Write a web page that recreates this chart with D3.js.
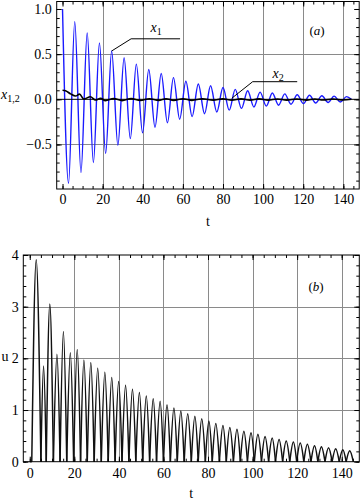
<!DOCTYPE html>
<html><head><meta charset="utf-8">
<script src="https://cdn.jsdelivr.net/npm/d3@7"></script>
<style>
body{margin:0;background:#fff}
svg{display:block}
text{font-family:"Liberation Serif","Times New Roman",serif;fill:#000}
</style>
</head><body>
<svg id="c" width="360" height="504"></svg>
<script>
// ---------- data ----------
const tTicks = [0, 20, 40, 60, 80, 100, 120, 140];
const aYTicks = [-0.5, 0.0, 0.5, 1.0];
const bYTicks = [0, 1, 2, 3, 4];

// panel (a): x1 extrema (blue)
const x1PeakT = [0, 6.1, 12.3, 18.4, 24.5, 30.7, 36.8, 43.0, 49.2, 55.3, 61.5, 67.7, 73.8, 80.0, 86.1, 92.3, 98.5, 104.6, 110.8, 117.0, 123.1, 129.3, 135.4, 141.6];
const x1PeakV = [1.0, 0.86, 0.735, 0.625, 0.535, 0.46, 0.39, 0.33, 0.285, 0.24, 0.20, 0.17, 0.15, 0.13, 0.11, 0.095, 0.08, 0.07, 0.06, 0.05, 0.045, 0.04, 0.035, 0.03];
const x1TroughT = [3.0, 9.2, 15.4, 21.5, 27.6, 33.8, 39.9, 46.1, 52.3, 58.4, 64.6, 70.8, 76.9, 83.1, 89.2, 95.4, 101.6, 107.7, 113.9, 120.1, 126.2, 132.4, 138.5, 144.0];
const x1TroughV = [-0.93, -0.81, -0.70, -0.60, -0.51, -0.435, -0.37, -0.31, -0.26, -0.22, -0.19, -0.16, -0.14, -0.12, -0.10, -0.085, -0.075, -0.065, -0.055, -0.048, -0.04, -0.035, -0.03, 0.0];

// panel (a): x2 (black)
const x2T = [0, 1.5, 4.0, 6.5, 8.5, 10.6, 13.9, 16.4, 19.0, 21.4, 25.5, 29.7, 34.2, 38.8, 43.3, 47.9, 51.6, 55.4, 60.0, 64.5, 69.8, 75.1, 79.8, 84.4, 89.0, 93.5, 98.0, 102.5, 107.2, 111.8, 116.8, 121.7, 125.8, 129.9, 134.8, 139.8, 144.0];
const x2V = [0.100, 0.095, 0.060, 0.036, 0.058, 0.003, 0.029, -0.008, 0.010, -0.014, 0.008, -0.014, 0.008, -0.013, 0.007, -0.013, 0.007, -0.012, 0.006, -0.012, 0.006, -0.011, 0.005, -0.011, 0.005, -0.010, 0.005, -0.010, 0.004, -0.009, 0.004, -0.009, 0.004, -0.008, 0.003, -0.008, 0.000];

// panel (b): u lobes
const uPeakT = [2.9, 6.2, 9.0, 12.2, 15.1, 18.2, 21.3, 24.3, 27.4, 30.5, 33.7, 36.8, 39.9, 43.0, 46.1, 49.2, 52.3, 55.4, 58.5, 61.6, 64.7, 67.8, 70.9, 74.1, 77.2, 80.4, 83.5, 86.7, 89.8, 93.0, 96.1, 99.3, 102.4, 105.6, 108.8, 111.9, 115.1, 118.3, 121.4, 124.6, 127.8, 130.9, 134.1, 137.3, 140.5, 143.6];
const uPeakV = [3.91, 1.85, 3.05, 2.08, 2.52, 2.11, 2.17, 1.97, 1.92, 1.81, 1.73, 1.63, 1.55, 1.48, 1.40, 1.34, 1.27, 1.22, 1.17, 1.10, 1.04, 0.98, 0.93, 0.88, 0.83, 0.79, 0.74, 0.70, 0.66, 0.63, 0.59, 0.56, 0.53, 0.49, 0.46, 0.43, 0.40, 0.38, 0.36, 0.34, 0.31, 0.29, 0.27, 0.25, 0.23, 0.21];
const uZeroT = [0.9, 5.0, 7.4, 10.6, 13.6, 16.6, 19.7, 22.8, 25.8, 28.9, 32.1, 35.2, 38.3, 41.4, 44.5, 47.6, 50.7, 53.8, 56.9, 60.0, 63.1, 66.2, 69.3, 72.5, 75.6, 78.8, 81.9, 85.1, 88.2, 91.4, 94.5, 97.7, 100.8, 104.0, 107.2, 110.3, 113.5, 116.7, 119.8, 123.0, 126.2, 129.3, 132.5, 135.7, 138.9, 142.0, 145.2];

// ---------- drawing ----------
const FONT = "Liberation Serif, Times New Roman, serif";
const svg = d3.select("#c");

const xA = d3.scaleLinear().domain([-2.9, 147.9]).range([56.7, 359.2]);
const yA = d3.scaleLinear().domain([-0.993, 1.083]).range([189, 1.5]);
const xB = d3.scaleLinear().domain([-2.9, 147.9]).range([23.3, 359.3]);
const yB = d3.scaleLinear().domain([0, 4]).range([461.7, 255]);

function frame(x, y, o) {
  const g = svg.append("g");
  const [x0, x1] = x.range(), [y0, y1] = y.range();
  g.selectAll(".gx").data(o.gridX).join("line")
    .attr("x1", d => Math.round(x(d)) + 0.5).attr("x2", d => Math.round(x(d)) + 0.5)
    .attr("y1", y0).attr("y2", y1).attr("stroke", "#8a8a8a").attr("stroke-width", 1);
  g.selectAll(".gy").data(o.gridY).join("line")
    .attr("y1", d => Math.round(y(d)) + 0.5).attr("y2", d => Math.round(y(d)) + 0.5)
    .attr("x1", x0).attr("x2", x1).attr("stroke", "#8a8a8a").attr("stroke-width", 1);
  return g;
}

function axes(x, y, o) {
  const g = svg.append("g");
  const [x0, x1] = x.range(), [y0, y1] = y.range();
  const style = s => s.attr("font-family", FONT).attr("font-size", 14)
    .call(s => s.select(".domain").remove());
  g.append("g").attr("transform", `translate(0,${y0})`)
    .call(d3.axisBottom(x).tickValues(o.xMajor).tickSize(-5).tickPadding(o.xPad).tickFormat(d3.format("d"))).call(style);
  g.append("g").attr("transform", `translate(0,${y0})`)
    .call(d3.axisBottom(x).tickValues(o.xMinor).tickSize(-3).tickFormat("")).call(style);
  g.append("g").attr("transform", `translate(0,${y1})`)
    .call(d3.axisTop(x).tickValues(o.xMajor).tickSize(-5).tickFormat("")).call(style);
  g.append("g").attr("transform", `translate(0,${y1})`)
    .call(d3.axisTop(x).tickValues(o.xMinor).tickSize(-3).tickFormat("")).call(style);
  g.append("g").attr("transform", `translate(${x0},0)`)
    .call(d3.axisLeft(y).tickValues(o.yMajor).tickSize(-5).tickPadding(o.yPad).tickFormat(o.yFmt)).call(style);
  g.append("g").attr("transform", `translate(${x0},0)`)
    .call(d3.axisLeft(y).tickValues(o.yMinor).tickSize(-3).tickFormat("")).call(style);
  g.append("g").attr("transform", `translate(${x1},0)`)
    .call(d3.axisRight(y).tickValues(o.yMajor).tickSize(-5).tickFormat("")).call(style);
  g.append("g").attr("transform", `translate(${x1},0)`)
    .call(d3.axisRight(y).tickValues(o.yMinor).tickSize(-3).tickFormat("")).call(style);
  g.append("rect").attr("x", x0).attr("y", y1).attr("width", x1 - x0).attr("height", y0 - y1)
    .attr("fill", "none").attr("stroke", "#000").attr("stroke-width", 1);
}

// ----- panel (a) -----
frame(xA, yA, { gridX: tTicks.filter(d => d > 0), gridY: [-0.5, 0.5] });

const x1Pts = x1PeakT.map((t, i) => [t, x1PeakV[i]])
  .concat(x1TroughT.map((t, i) => [t, x1TroughV[i]]))
  .sort((a, b) => a[0] - b[0]);
const lineA = d3.line().x(d => xA(d[0])).y(d => yA(d[1])).curve(d3.curveMonotoneX);
svg.append("path").attr("d", lineA(x1Pts)).attr("fill", "none")
  .attr("stroke", "#1a1aff").attr("stroke-width", 1.4);

svg.append("line").attr("x1", xA.range()[0]).attr("x2", xA.range()[1])
  .attr("y1", yA(0)).attr("y2", yA(0)).attr("stroke", "#000").attr("stroke-width", 1);

const x2Pts = x2T.map((t, i) => [t, x2V[i]]);
svg.append("path").attr("d", lineA(x2Pts)).attr("fill", "none")
  .attr("stroke", "#000").attr("stroke-width", 1.6);

axes(xA, yA, {
  xMajor: tTicks, xMinor: d3.range(0, 146, 5), xPad: 5, yPad: 5,
  yMajor: aYTicks, yMinor: d3.range(-9, 11).map(d => d / 10),
  yFmt: d3.format(".1f")
});

const leadA = [[24.5, 0.535], [34.2, 0.67], [58.6, 0.67]];
const leadB = [[84.4, 0.012], [94.8, 0.195], [117.0, 0.195]];
const plain = d3.line().x(d => xA(d[0])).y(d => yA(d[1]));
svg.append("path").attr("d", plain(leadA)).attr("fill", "none").attr("stroke", "#000").attr("stroke-width", 1);
svg.append("path").attr("d", plain(leadB)).attr("fill", "none").attr("stroke", "#000").attr("stroke-width", 1);

function subLabel(x, y, main, sub, size, subSize) {
  const t = svg.append("text").attr("x", x).attr("y", y).attr("font-size", size).attr("font-family", FONT);
  t.append("tspan").attr("font-style", "italic").text(main);
  t.append("tspan").attr("dy", 3).attr("font-size", subSize).text(sub);
}
subLabel(150.5, 31.5, "x", "1", 14, 10);
subLabel(272.5, 78, "x", "2", 14, 10);
subLabel(1, 99, "x", "1,2", 14, 10);

const ta = svg.append("text").attr("x", 317).attr("y", 34.5).attr("font-size", 13)
  .attr("font-family", FONT).attr("text-anchor", "middle");
ta.append("tspan").text("(");
ta.append("tspan").attr("font-style", "italic").text("a");
ta.append("tspan").text(")");

svg.append("text").attr("x", (xA.range()[0] + xA.range()[1]) / 2).attr("y", 226)
  .attr("font-family", FONT).attr("font-size", 14).attr("text-anchor", "middle").text("t");

// ----- panel (b) -----
frame(xB, yB, { gridX: tTicks.filter(d => d > 0), gridY: [1, 2, 3] });

const lobe = d3.line().x(d => xB(d[0])).y(d => yB(d[1])).curve(d3.curveNatural);
const gU = svg.append("g");
gU.append("path").attr("d", d3.line().x(d => xB(d[0])).y(d => yB(d[1]))([[0, 0], [uZeroT[0], 0]]))
  .attr("fill", "none").attr("stroke", "#111").attr("stroke-width", 1.5);
gU.selectAll(".lobe").data(uPeakT.map((t, i) => [[uZeroT[i], 0], [t, uPeakV[i]], [uZeroT[i + 1], 0]]))
  .join("path").attr("d", d => lobe(d)).attr("fill", "none")
  .attr("stroke", "#111").attr("stroke-width", 1.5);

axes(xB, yB, {
  xMajor: tTicks, xMinor: d3.range(0, 146, 5), xPad: 6, yPad: 4.5,
  yMajor: bYTicks, yMinor: d3.range(0, 21).map(d => d / 5),
  yFmt: d3.format("d")
});

svg.append("text").attr("x", 5).attr("y", 361).attr("font-family", FONT)
  .attr("font-size", 14).attr("text-anchor", "middle").text("u");
const tb = svg.append("text").attr("x", 316).attr("y", 291).attr("font-size", 13)
  .attr("font-family", FONT).attr("text-anchor", "middle");
tb.append("tspan").text("(");
tb.append("tspan").attr("font-style", "italic").text("b");
tb.append("tspan").text(")");

svg.append("text").attr("x", (xB.range()[0] + xB.range()[1]) / 2).attr("y", 498)
  .attr("font-family", FONT).attr("font-size", 14).attr("text-anchor", "middle").text("t");
</script>
</body></html>
